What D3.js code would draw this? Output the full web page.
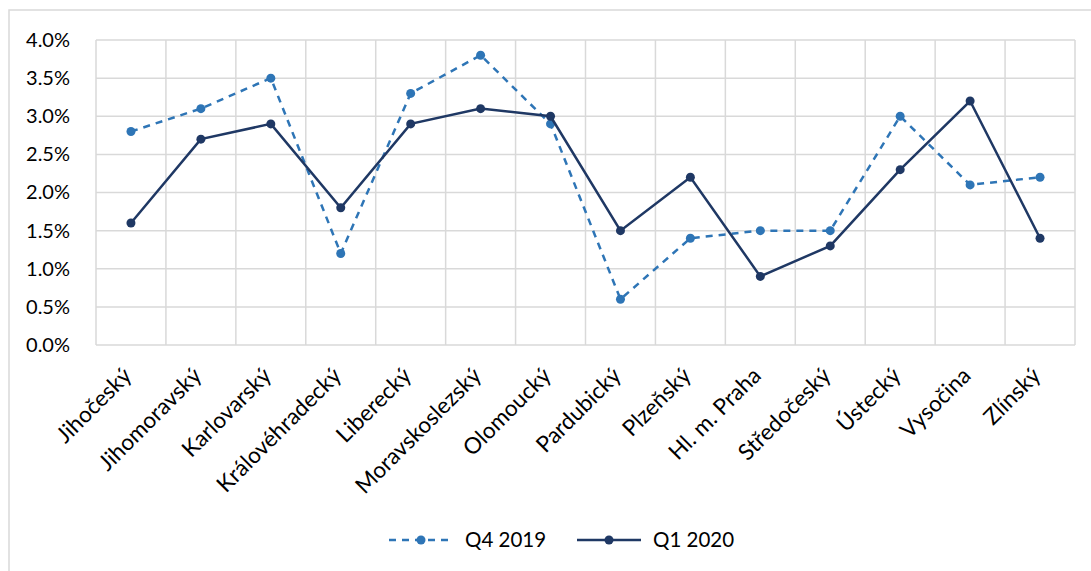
<!DOCTYPE html>
<html lang="cs">
<head>
<meta charset="UTF-8">
<title>Regiony</title>
<style>
    body { margin: 0; background: #fff; }
    svg { display: block; font-family: Lato, "Noto Sans", sans-serif; }
    .grid line { stroke: #d9d9d9; stroke-width: 1.5px; }
    .tick text { fill: #000; }
</style>
</head>
<body>
<svg width="1091" height="571"></svg>
<script src="https://d3js.org/d3.v7.min.js"></script>
<script>
const regions = ["Jihočeský", "Jihomoravský", "Karlovarský", "Královéhradecký", "Liberecký",
    "Moravskoslezský", "Olomoucký", "Pardubický", "Plzeňský", "Hl. m. Praha",
    "Středočeský", "Ústecký", "Vysočina", "Zlínský"];
const q4_2019 = [2.8, 3.1, 3.5, 1.2, 3.3, 3.8, 2.9, 0.6, 1.4, 1.5, 1.5, 3.0, 2.1, 2.2];
const q1_2020 = [1.6, 2.7, 2.9, 1.8, 2.9, 3.1, 3.0, 1.5, 2.2, 0.9, 1.3, 2.3, 3.2, 1.4];
const yTicks = [0, 0.5, 1, 1.5, 2, 2.5, 3, 3.5, 4];

const series = [
    { name: "Q4 2019", values: q4_2019, color: "#2e75b6", dash: "7,6" },
    { name: "Q1 2020", values: q1_2020, color: "#1f3864", dash: null }
];

const svg = d3.select("svg");
const plotLeft = 96, plotRight = 1075, plotTop = 40, plotBottom = 345;

// chart frame
svg.append("path")
    .attr("d", "M9,571 L9,10 L1091,10")
    .attr("fill", "none")
    .attr("stroke", "#d9d9d9")
    .attr("stroke-width", 1.5);

const x = d3.scaleBand().domain(regions).range([plotLeft, plotRight]);
const y = d3.scaleLinear().domain([0, 4]).range([plotBottom, plotTop]);

// grid
const grid = svg.append("g").attr("class", "grid");
grid.selectAll(".h").data(yTicks).enter().append("line")
    .attr("x1", plotLeft).attr("x2", plotRight)
    .attr("y1", d => y(d)).attr("y2", d => y(d));
grid.selectAll(".v").data(regions.concat([null])).enter().append("line")
    .attr("x1", (d, i) => plotLeft + i * x.bandwidth())
    .attr("x2", (d, i) => plotLeft + i * x.bandwidth())
    .attr("y1", plotTop).attr("y2", plotBottom);

// y axis
const yAxis = svg.append("g")
    .attr("transform", `translate(${plotLeft - 23},0)`)
    .call(d3.axisLeft(y).tickValues(yTicks).tickSize(0).tickFormat(d => d.toFixed(1) + "%"));
yAxis.select(".domain").remove();
yAxis.selectAll("text").attr("font-size", 20).attr("font-family", "Lato, 'Noto Sans', sans-serif");

// x axis
const xAxis = svg.append("g")
    .attr("transform", `translate(0,${plotBottom})`)
    .call(d3.axisBottom(x).tickSize(0));
xAxis.select(".domain").remove();
xAxis.selectAll("text")
    .attr("font-size", 22.5)
    .attr("font-family", "Lato, 'Noto Sans', sans-serif")
    .attr("text-anchor", "end")
    .attr("dy", null)
    .attr("y", 0)
    .attr("transform", "translate(2,32) rotate(-45)");

// lines
const line = d3.line()
    .x((d, i) => x(regions[i]) + x.bandwidth() / 2)
    .y(d => y(d));

series.forEach(s => {
    svg.append("path")
        .datum(s.values)
        .attr("fill", "none")
        .attr("stroke", s.color)
        .attr("stroke-width", 2.5)
        .attr("stroke-dasharray", s.dash)
        .attr("d", line);
    svg.append("g").selectAll("circle").data(s.values).enter().append("circle")
        .attr("cx", (d, i) => x(regions[i]) + x.bandwidth() / 2)
        .attr("cy", d => y(d))
        .attr("r", 4.5)
        .attr("fill", s.color);
});

// legend
const legendX = [389, 577];
const legend = svg.append("g");
series.forEach((s, i) => {
    const g = legend.append("g").attr("transform", `translate(${legendX[i]},540)`);
    g.append("line")
        .attr("x1", 0).attr("x2", 64)
        .attr("stroke", s.color).attr("stroke-width", 2.5)
        .attr("stroke-dasharray", s.dash);
    g.append("circle").attr("cx", 32).attr("r", 4.5).attr("fill", s.color);
    g.append("text")
        .attr("x", 76).attr("y", 7)
        .attr("font-size", 20.5)
        .text(s.name);
});
</script>
</body>
</html>
